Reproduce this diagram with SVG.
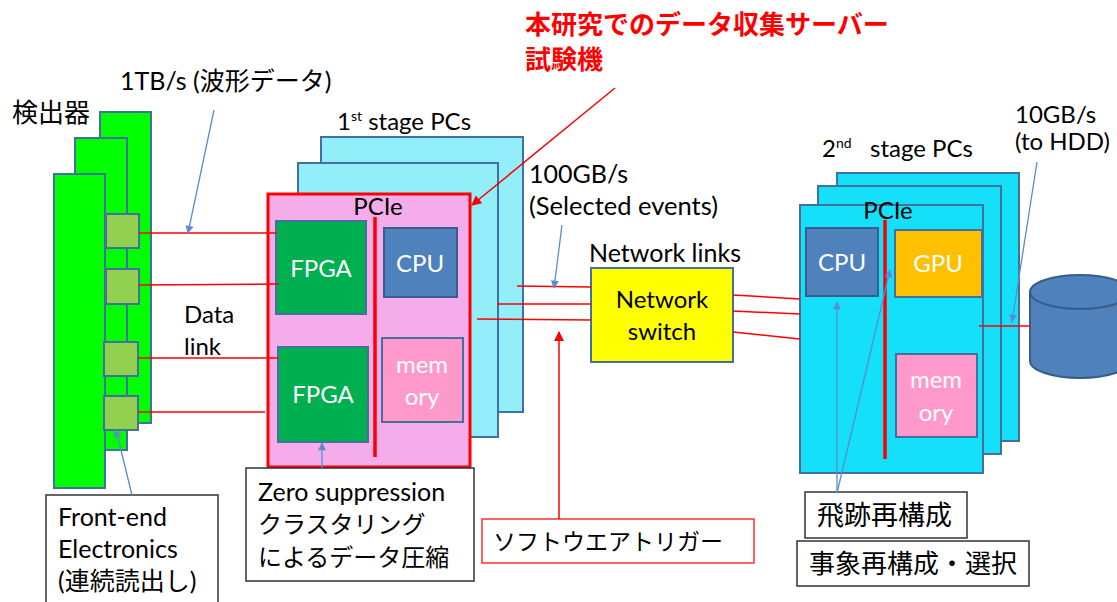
<svg xmlns="http://www.w3.org/2000/svg" width="1117" height="602" viewBox="0 0 1117 602">
<defs>
<style>
.t{font-family:Lato,"Noto Sans CJK JP",sans-serif;fill:#000}
.j{font-family:"Noto Sans CJK JP",sans-serif;fill:#000}
.w{fill:#fff}
.mid{text-anchor:middle}
.blue{stroke:#5B8BD0;stroke-width:1.3;fill:none;marker-end:url(#ab)}
.red{stroke:#FF0000;stroke-width:1.5;fill:none}
.box{fill:#fff;stroke:#333;stroke-width:1.5}
.det{fill:#00FF00;stroke:#41719C;stroke-width:2}
.chip{fill:#92D050;stroke:#41719C;stroke-width:2}
.pc1{fill:#92EFFA;stroke:#41719C;stroke-width:2}
.pc2{fill:#14E0FA;stroke:#41719C;stroke-width:2}
.fpga{fill:#00B050;stroke:#41719C;stroke-width:2}
.cpu{fill:#4F81BD;stroke:#385D8A;stroke-width:2}
.mem{fill:#FF99CC;stroke:#41719C;stroke-width:2}
.gpu{fill:#FFC000;stroke:#41719C;stroke-width:2}
.bar{stroke:#FF0000;stroke-width:3.5}
</style>
<marker id="ab" viewBox="0 0 10 10" refX="9" refY="5" markerWidth="9" markerHeight="8" markerUnits="userSpaceOnUse" orient="auto"><path d="M0,0 L10,5 L0,10 z" fill="#5B8BD0"/></marker>
<marker id="ar" viewBox="0 0 10 10" refX="9" refY="5" markerWidth="11" markerHeight="10" markerUnits="userSpaceOnUse" orient="auto"><path d="M0,0 L10,5 L0,10 z" fill="#FF0000"/></marker>
</defs>
<rect width="1117" height="602" fill="#fff"/>

<g id="title">
<text class="j" x="525" y="34" font-size="26" font-weight="bold" style="fill:#FF0000">本研究でのデータ収集サーバー</text>
<text class="j" x="525" y="69" font-size="26" font-weight="bold" style="fill:#FF0000">試験機</text>
</g>

<g id="detector">
<rect class="det" x="100" y="112" width="51" height="311"/>
<rect class="det" x="75" y="138" width="52" height="312"/>
<rect class="det" x="54" y="174" width="51" height="314"/>
<text class="j" x="12" y="122" font-size="26">検出器</text>
</g>

<g id="fe-chips">
<rect class="chip" x="106" y="214" width="33" height="34"/>
<rect class="chip" x="106" y="269" width="33" height="35"/>
<rect class="chip" x="104" y="342" width="34" height="34"/>
<rect class="chip" x="104" y="396" width="34" height="34"/>
</g>

<g id="stage1">
<rect class="pc1" x="321" y="137" width="202" height="275"/>
<rect class="pc1" x="298" y="163" width="200" height="274"/>
<rect x="268" y="194" width="202" height="273" fill="#F4ADEA" stroke="#FF0000" stroke-width="3"/>
<text class="t mid" x="378" y="215" font-size="24">PCIe</text>
<line class="bar" x1="375" y1="217" x2="375" y2="457"/>
<text class="t" x="337" y="130" font-size="24">1<tspan font-size="14" dy="-9">st</tspan><tspan dy="9"> stage PCs</tspan></text>
</g>

<g id="fpga1">
<rect class="fpga" x="276" y="221" width="90" height="93"/>
<text class="t w mid" x="321" y="277" font-size="24">FPGA</text>
</g>
<g id="fpga2">
<rect class="fpga" x="278" y="347" width="90" height="95"/>
<text class="t w mid" x="323" y="403" font-size="24">FPGA</text>
</g>
<g id="cpu1">
<rect class="cpu" x="384" y="228" width="73" height="69"/>
<text class="t w mid" x="420" y="272" font-size="24">CPU</text>
</g>
<g id="mem1">
<rect class="mem" x="382" y="338" width="81" height="84"/>
<text class="t w mid" x="422" y="373" font-size="24">mem</text>
<text class="t w mid" x="422" y="405" font-size="24">ory</text>
</g>

<g id="switch">
<rect x="591" y="268" width="142" height="94" fill="#FFFF00" stroke="#41719C" stroke-width="2"/>
<text class="t mid" x="662" y="308" font-size="24">Network</text>
<text class="t mid" x="662" y="340" font-size="24">switch</text>
</g>

<g id="stage2">
<rect class="pc2" x="837" y="173" width="182" height="268"/>
<rect class="pc2" x="818" y="186" width="183" height="268"/>
<rect class="pc2" x="800" y="205" width="183" height="268"/>
<text class="t mid" x="888" y="219" font-size="24">PCIe</text>
<line class="bar" x1="885" y1="220" x2="885" y2="459"/>
<text class="t" x="822" y="157" font-size="24">2<tspan font-size="14" dy="-9">nd</tspan><tspan dy="9" x="870">stage PCs</tspan></text>
</g>
<g id="cpu2">
<rect class="cpu" x="806" y="228" width="72" height="68"/>
<text class="t w mid" x="842" y="271" font-size="24">CPU</text>
</g>
<g id="gpu2">
<rect class="gpu" x="895" y="230" width="87" height="67"/>
<text class="t w mid" x="938" y="272" font-size="24">GPU</text>
</g>
<g id="mem2">
<rect class="mem" x="896" y="354" width="81" height="83"/>
<text class="t w mid" x="936" y="388" font-size="24">mem</text>
<text class="t w mid" x="936" y="421" font-size="24">ory</text>
</g>

<g id="hdd">
<path d="M1030,292 L1030,361 A50,17 0 0 0 1130,361 L1130,292" fill="#4F81BD" stroke="#385D8A" stroke-width="2"/>
<ellipse cx="1080" cy="292" rx="50" ry="17" fill="#4F81BD" stroke="#385D8A" stroke-width="2"/>
</g>

<g id="labels">
<text class="t" x="120" y="90" font-size="25">1TB/s (波形データ)</text>
<text class="t" x="184" y="323" font-size="24">Data</text>
<text class="t" x="184" y="355" font-size="24">link</text>
<text class="t" x="529" y="183" font-size="25">100GB/s</text>
<text class="t" x="529" y="215" font-size="25.5">(Selected events)</text>
<text class="t" x="589" y="262" font-size="25">Network links</text>
<text class="t" x="1015" y="123" font-size="24">10GB/s</text>
<text class="t" x="1015" y="150" font-size="24">(to HDD)</text>
</g>

<g id="fe-box">
<rect class="box" x="46" y="495" width="172" height="115"/>
<text class="t" x="58" y="526" font-size="25">Front-end</text>
<text class="t" x="58" y="558" font-size="25">Electronics</text>
<text class="t" x="58" y="590" font-size="25">(連続読出し)</text>
</g>
<g id="zs-box">
<rect class="box" x="246" y="468" width="228" height="113"/>
<text class="t" x="258" y="501" font-size="25">Zero suppression</text>
<text class="j" x="258" y="533" font-size="24">クラスタリング</text>
<text class="j" x="258" y="566" font-size="24">によるデータ圧縮</text>
</g>
<g id="trigger-box">
<rect x="482" y="519" width="272" height="44" fill="#fff" stroke="#FF3030" stroke-width="1.5"/>
<text class="j" x="493" y="550" font-size="23">ソフトウエアトリガー</text>
</g>
<g id="track-box">
<rect class="box" x="805" y="492" width="162" height="46"/>
<text class="j" x="817" y="525" font-size="27">飛跡再構成</text>
</g>
<g id="event-box">
<rect class="box" x="797" y="541" width="232" height="45"/>
<text class="j" x="809" y="573" font-size="26">事象再構成・選択</text>
</g>

<g id="connectors">
<line class="red" x1="139" y1="233" x2="277" y2="233"/>
<line class="red" x1="139" y1="285" x2="279" y2="284"/>
<line class="red" x1="138" y1="358" x2="279" y2="358"/>
<line class="red" x1="138" y1="412" x2="265" y2="412"/>
<line class="red" x1="517" y1="286" x2="591" y2="287"/>
<line class="red" x1="497" y1="304" x2="591" y2="304"/>
<line class="red" x1="477" y1="319" x2="591" y2="320"/>
<line class="red" x1="733" y1="295" x2="800" y2="299"/>
<line class="red" x1="733" y1="311" x2="800" y2="314"/>
<line class="red" x1="733" y1="332" x2="800" y2="339"/>
<line class="red" x1="979" y1="326" x2="1030" y2="326"/>
<line class="red" x1="615" y1="88" x2="472" y2="205" marker-end="url(#ar)"/>
<line class="red" x1="559" y1="519" x2="559" y2="332" marker-end="url(#ar)"/>
<line class="blue" x1="214" y1="110" x2="188" y2="233"/>
<line class="blue" x1="132" y1="495" x2="116" y2="430"/>
<line class="blue" x1="322" y1="468" x2="322" y2="443"/>
<line class="blue" x1="562" y1="225" x2="554" y2="288"/>
<line class="blue" x1="1037" y1="162" x2="1012" y2="322"/>
<line class="blue" x1="837" y1="493" x2="837" y2="302"/>
<line class="blue" x1="837" y1="493" x2="890" y2="270"/>
</g>
</svg>
